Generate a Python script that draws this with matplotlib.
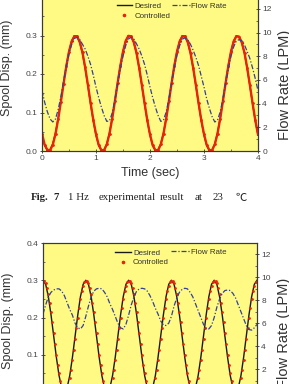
import numpy as np
import matplotlib.pyplot as plt
from matplotlib.ticker import MultipleLocator
from matplotlib.lines import Line2D

plt.rcParams['font.family'] = ['Liberation Sans', 'DejaVu Sans']

# ---- Fig. 7 : 1 Hz test, sampled every 0.05 s over 0..4 s ----
time_1hz = np.linspace(0, 4, 81)
desired_1hz = [
    0.041, 0.014, 0.001, 0.003, 0.019, 0.047, 0.086, 0.131, 0.178, 0.222,
    0.259, 0.286, 0.299, 0.297, 0.281, 0.253, 0.214, 0.169, 0.122, 0.078,
    0.041, 0.014, 0.001, 0.003, 0.019, 0.047, 0.086, 0.131, 0.178, 0.222,
    0.259, 0.286, 0.299, 0.297, 0.281, 0.253, 0.214, 0.169, 0.122, 0.078,
    0.041, 0.014, 0.001, 0.003, 0.019, 0.047, 0.086, 0.131, 0.178, 0.222,
    0.259, 0.286, 0.299, 0.297, 0.281, 0.253, 0.214, 0.169, 0.122, 0.078,
    0.041, 0.014, 0.001, 0.003, 0.019, 0.047, 0.086, 0.131, 0.178, 0.222,
    0.259, 0.286, 0.299, 0.297, 0.281, 0.253, 0.214, 0.169, 0.122, 0.078,
    0.041]
controlled_1hz = [
    0.045, 0.016, 0.003, 0.002, 0.016, 0.044, 0.083, 0.128, 0.175, 0.220,
    0.258, 0.285, 0.298, 0.298, 0.283, 0.256, 0.217, 0.172, 0.125, 0.081,
    0.044, 0.016, 0.002, 0.002, 0.017, 0.045, 0.084, 0.129, 0.176, 0.220,
    0.258, 0.286, 0.299, 0.298, 0.283, 0.255, 0.216, 0.171, 0.124, 0.080,
    0.043, 0.015, 0.002, 0.002, 0.017, 0.045, 0.084, 0.129, 0.176, 0.221,
    0.258, 0.285, 0.298, 0.298, 0.283, 0.255, 0.216, 0.171, 0.124, 0.080,
    0.044, 0.016, 0.002, 0.002, 0.017, 0.045, 0.084, 0.129, 0.176, 0.220,
    0.258, 0.285, 0.298, 0.297, 0.282, 0.255, 0.216, 0.171, 0.124, 0.080,
    0.043]
flow_1hz = [
    5.1, 4.1, 3.3, 2.7, 2.45, 2.7, 3.5, 4.6, 5.9, 7.1,
    8.2, 9.0, 9.5, 9.6, 9.4, 9.0, 8.6, 8.0, 7.3, 6.4,
    5.4, 4.5, 3.7, 3.0, 2.5, 2.55, 3.2, 4.3, 5.6, 6.9,
    8.0, 8.9, 9.45, 9.6, 9.45, 9.05, 8.6, 8.0, 7.3, 6.4,
    5.4, 4.5, 3.7, 3.0, 2.5, 2.6, 3.3, 4.4, 5.7, 7.0,
    8.1, 8.9, 9.45, 9.55, 9.4, 9.0, 8.5, 7.9, 7.2, 6.3,
    5.4, 4.4, 3.6, 2.9, 2.45, 2.6, 3.3, 4.4, 5.7, 6.9,
    8.0, 8.8, 9.3, 9.4, 9.3, 8.95, 8.4, 7.8, 7.0, 6.1,
    5.1]

# ---- second test (lower panel), 0..2 s ----
time_b = np.linspace(0, 2, 81)          # desired line and flow, every 0.025 s
desired_b = [
    0.300, 0.289, 0.256, 0.207, 0.150, 0.093, 0.044, 0.011, 0.000, 0.011, 0.044, 0.093, 0.150, 0.207, 0.256, 0.289,
    0.300, 0.289, 0.256, 0.207, 0.150, 0.093, 0.044, 0.011, 0.000, 0.011, 0.044, 0.093, 0.150, 0.207, 0.256, 0.289,
    0.300, 0.289, 0.256, 0.207, 0.150, 0.093, 0.044, 0.011, 0.000, 0.011, 0.044, 0.093, 0.150, 0.207, 0.256, 0.289,
    0.300, 0.289, 0.256, 0.207, 0.150, 0.093, 0.044, 0.011, 0.000, 0.011, 0.044, 0.093, 0.150, 0.207, 0.256, 0.289,
    0.300, 0.289, 0.256, 0.207, 0.150, 0.093, 0.044, 0.011, 0.000, 0.011, 0.044, 0.093, 0.150, 0.207, 0.256, 0.289,
    0.300]
flow_b = [
    6.8, 7.6, 8.3, 8.7, 8.9, 9.0, 9.0, 8.8, 8.4, 7.8, 7.2, 6.7, 6.0, 5.6, 5.5, 5.8,
    6.6, 7.5, 8.3, 8.8, 9.0, 9.05, 9.0, 8.7, 8.3, 7.7, 7.2, 6.6, 6.0, 5.6, 5.5, 5.9,
    6.7, 7.6, 8.3, 8.8, 9.0, 9.05, 9.0, 8.8, 8.4, 7.9, 7.3, 6.8, 6.2, 5.85, 5.8, 6.0,
    6.6, 7.5, 8.2, 8.7, 8.95, 9.05, 9.0, 8.7, 8.3, 7.7, 7.1, 6.5, 5.9, 5.55, 5.5, 5.8,
    6.5, 7.4, 8.1, 8.6, 8.85, 8.9, 8.85, 8.6, 8.2, 7.6, 7.0, 6.4, 5.8, 5.45, 5.4, 5.6,
    5.9]
time_b_dots = np.linspace(0, 2, 161)    # controlled samples, every 0.0125 s
controlled_b = [
    0.298, 0.298, 0.292, 0.280, 0.262, 0.240, 0.214, 0.187, 0.158, 0.129, 0.100, 0.073, 0.050, 0.030, 0.015, 0.005,
    0.001, 0.001, 0.007, 0.019, 0.037, 0.059, 0.085, 0.113, 0.142, 0.171, 0.200, 0.226, 0.250, 0.270, 0.285, 0.295,
    0.299, 0.298, 0.292, 0.280, 0.262, 0.240, 0.214, 0.187, 0.158, 0.129, 0.100, 0.073, 0.050, 0.030, 0.015, 0.005,
    0.001, 0.001, 0.007, 0.019, 0.037, 0.059, 0.085, 0.113, 0.142, 0.171, 0.200, 0.226, 0.250, 0.270, 0.285, 0.295,
    0.299, 0.298, 0.292, 0.280, 0.262, 0.240, 0.214, 0.187, 0.158, 0.129, 0.100, 0.073, 0.050, 0.030, 0.015, 0.005,
    0.001, 0.001, 0.007, 0.019, 0.037, 0.059, 0.085, 0.113, 0.142, 0.171, 0.200, 0.226, 0.250, 0.270, 0.285, 0.295,
    0.299, 0.298, 0.292, 0.280, 0.262, 0.240, 0.214, 0.187, 0.158, 0.129, 0.100, 0.073, 0.050, 0.030, 0.015, 0.005,
    0.001, 0.001, 0.007, 0.019, 0.037, 0.059, 0.085, 0.113, 0.142, 0.171, 0.200, 0.226, 0.250, 0.270, 0.285, 0.295,
    0.299, 0.298, 0.292, 0.280, 0.262, 0.240, 0.214, 0.187, 0.158, 0.129, 0.100, 0.073, 0.050, 0.030, 0.015, 0.005,
    0.001, 0.001, 0.007, 0.019, 0.037, 0.059, 0.085, 0.113, 0.142, 0.171, 0.200, 0.226, 0.250, 0.270, 0.285, 0.295,
    0.299]

YELLOW = '#fefa84'
RED = '#e8240c'
BLUE = '#33409a'
DASHDOT = (0, (4, 1.5, 1, 1.5))


def style_axes(ax, twin, xmax, xmajor):
    ax.set_facecolor(YELLOW)
    ax.set_xlim(0, xmax)
    ax.set_ylim(0, 0.4)
    twin.set_ylim(0, 13)
    ax.xaxis.set_major_locator(MultipleLocator(xmajor))
    ax.xaxis.set_minor_locator(MultipleLocator(xmajor / 2))
    ax.yaxis.set_major_locator(MultipleLocator(0.1))
    ax.yaxis.set_minor_locator(MultipleLocator(0.05))
    twin.yaxis.set_major_locator(MultipleLocator(2))
    twin.yaxis.set_minor_locator(MultipleLocator(1))
    for a in (ax, twin):
        a.tick_params(which='major', direction='inout', length=3, width=0.6,
                      labelsize=6, pad=1.5, colors='#333333', labelcolor='#444444')
        a.tick_params(which='minor', direction='in', length=1.5, width=0.5, colors='#333333')
        for s in a.spines.values():
            s.set_linewidth(0.8)
            s.set_color('#3a3a3a')
    ax.set_ylabel('Spool Disp. (mm)', fontsize=9, color='#333333')
    twin.set_ylabel('Flow Rate (LPM)', fontsize=10.5, color='#333333')


def add_legends(ax, twin, x_left, x_flow, y_top):
    h1 = [Line2D([], [], color='#1a1a1a', lw=1),
          Line2D([], [], ls='none', marker='o', ms=1.6, color=RED)]
    leg = ax.legend(h1, ['Desired', 'Controlled'], loc='upper left',
                    bbox_to_anchor=(x_left, y_top), frameon=False, fontsize=5.7,
                    borderpad=0, borderaxespad=0, handlelength=2.0,
                    handletextpad=0.3, labelspacing=0.25)
    for t in leg.get_texts():
        t.set_color('#333333')
    h2 = [Line2D([], [], color=BLUE, lw=0.9, ls=DASHDOT)]
    leg2 = twin.legend(h2, ['Flow Rate'], loc='upper left',
                       bbox_to_anchor=(x_flow, y_top + 0.004), frameon=False, fontsize=5.7,
                       borderpad=0, borderaxespad=0, handlelength=2.3, handletextpad=0.2)
    for t in leg2.get_texts():
        t.set_color('#333333')


fig = plt.figure(figsize=(2.89, 3.84), dpi=100)

# upper panel (Fig. 7)
ax1 = fig.add_axes([42 / 289, 1 - 151 / 384, 216 / 289, 154 / 384])
tw1 = ax1.twinx()
ax1.plot(time_1hz, desired_1hz, color='#1a1a1a', lw=1)
ax1.plot(time_1hz, controlled_1hz, color=RED, lw=1.7, marker='o', ms=2.0, mew=0)
tw1.plot(time_1hz, flow_1hz, color=BLUE, lw=0.9, ls=DASHDOT)
style_axes(ax1, tw1, 4, 1)
ax1.set_xlabel('Time (sec)', fontsize=9, color='#333333', labelpad=3.5)
ax1.yaxis.set_label_coords(-0.134, 0.54)
tw1.yaxis.set_label_coords(1.091, 0.43)
add_legends(ax1, tw1, 0.345, 0.60, 0.963)

# caption
cap_y = 1 - 198 / 384
cap_font = dict(fontsize=7.8, va='center', ha='left', color='#222222', family='Liberation Serif')
fig.text(30.5 / 289, cap_y, 'Fig.', fontweight='bold', **cap_font)
fig.text(53 / 289, cap_y, '7', fontweight='bold', **cap_font)
fig.text(68 / 289, cap_y, '1 Hz', **cap_font)
fig.text(99 / 289, cap_y, 'experimental', **cap_font)
fig.text(160 / 289, cap_y, 'result', **cap_font)
fig.text(195 / 289, cap_y, 'at', **cap_font)
fig.text(213 / 289, cap_y, '23', **cap_font)
fig.text(236 / 289, cap_y, '℃', fontsize=8.2, va='center', ha='left', color='#222222',
         family=['Noto Sans CJK SC', 'DejaVu Sans'])

# lower panel
ax2 = fig.add_axes([43 / 289, -8 / 384, 214 / 289, 149 / 384])
tw2 = ax2.twinx()
ax2.plot(time_b, desired_b, color='#1a1a1a', lw=1)
ax2.plot(time_b_dots, controlled_b, ls='none', marker='o', ms=2.0, mew=0, color=RED)
tw2.plot(time_b, flow_b, color=BLUE, lw=0.9, ls=DASHDOT)
style_axes(ax2, tw2, 2, 0.5)
ax2.yaxis.set_label_coords(-0.136, 0.477)
tw2.yaxis.set_label_coords(1.092, 0.40)
add_legends(ax2, tw2, 0.336, 0.60, 0.958)

fig.savefig('out.png', dpi=100)
